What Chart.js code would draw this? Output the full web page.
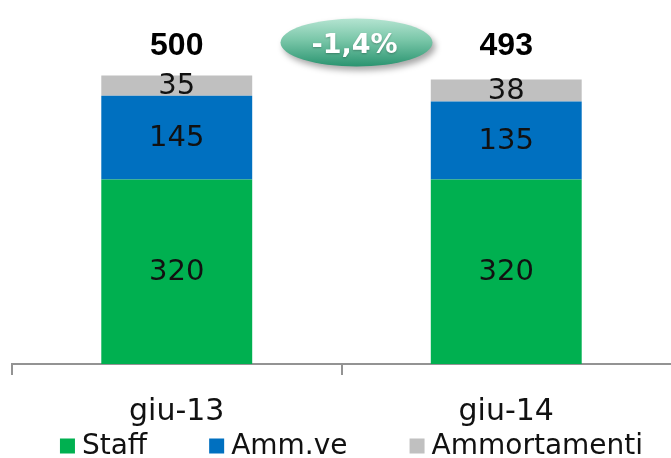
<!DOCTYPE html>
<html>
<head>
<meta charset="utf-8">
<script src="https://cdn.jsdelivr.net/npm/chart.js@4/dist/chart.umd.min.js"></script>
<style>
  html, body { margin: 0; padding: 0; background: #ffffff; }
  #wrap { width: 671px; height: 458px; position: relative; }
</style>
</head>
<body>
<div id="wrap"><canvas id="chart"></canvas></div>
<script>
// Cost breakdown by period (stacked)
const categories = ['giu-13', 'giu-14'];
const staff = [320, 320];
const amministrative = [145, 135];
const ammortamenti = [35, 38];
const seriesNames = ['Staff', 'Amm.ve', 'Ammortamenti'];
const seriesColors = ['#00b050', '#0070c0', '#c0c0c0'];

const FONT = '"DejaVu Sans", sans-serif';
const AXIS_GREY = '#939393';
const totals = categories.map((_, i) => staff[i] + amministrative[i] + ammortamenti[i]);
const change = (totals[1] - totals[0]) / totals[0] * 100;
const changeText = (change < 0 ? '-' : '+') + Math.abs(change).toFixed(1).replace('.', ',') + '%';

// Values written in the middle of each segment
const segmentLabels = {
  id: 'segmentLabels',
  afterDatasetsDraw(chart) {
    const ctx = chart.ctx;
    ctx.save();
    ctx.font = '29px ' + FONT;
    ctx.fillStyle = '#111111';
    ctx.textAlign = 'center';
    ctx.textBaseline = 'middle';
    chart.data.datasets.forEach((ds, di) => {
      chart.getDatasetMeta(di).data.forEach((bar, i) => {
        const p = bar.getProps(['x', 'y', 'base'], true);
        ctx.fillText(String(ds.data[i]), p.x, (p.y + p.base) / 2 + 1);
      });
    });
    ctx.restore();
  }
};

// Totals above the stacks and the change badge between them
const totalsAndBadge = {
  id: 'totalsAndBadge',
  afterDatasetsDraw(chart) {
    const ctx = chart.ctx;
    const xs = chart.scales.x, ys = chart.scales.y;
    const ty = ys.getPixelForValue(Math.max(...totals)) - 30;
    ctx.save();
    ctx.font = 'bold 32px "Liberation Sans", Arial, sans-serif';
    ctx.fillStyle = '#000000';
    ctx.textAlign = 'center';
    ctx.textBaseline = 'middle';
    totals.forEach((t, i) => ctx.fillText(String(t), xs.getPixelForValue(i), ty + 1));

    // badge
    const cx = (xs.getPixelForValue(0) + xs.getPixelForValue(1)) / 2 + 15;
    const cy = ty - 3;
    const rx = 76, ry = 24;
    ctx.save();
    ctx.shadowColor = 'rgba(0,0,0,0.35)';
    ctx.shadowBlur = 6;
    ctx.shadowOffsetX = 3;
    ctx.shadowOffsetY = 4;
    const g = ctx.createLinearGradient(0, cy - ry, 0, cy + ry);
    g.addColorStop(0, '#b4e4d1');
    g.addColorStop(0.45, '#79c6a8');
    g.addColorStop(1, '#2a9470');
    ctx.fillStyle = g;
    ctx.beginPath();
    ctx.ellipse(cx, cy, rx, ry, 0, 0, Math.PI * 2);
    ctx.fill();
    ctx.restore();

    ctx.font = 'bold 27px ' + FONT;
    ctx.fillStyle = '#ffffff';
    ctx.shadowColor = 'rgba(0,0,0,0.25)';
    ctx.shadowBlur = 2;
    ctx.shadowOffsetY = 1;
    ctx.fillText(changeText, cx - 2, cy + 3);
    ctx.restore();
  }
};

// Legend row beneath the axis labels
const bottomLegend = {
  id: 'bottomLegend',
  afterDraw(chart) {
    const ctx = chart.ctx;
    const box = 15, gap = 7, spacing = 62;
    ctx.save();
    ctx.font = '28px ' + FONT;
    const items = chart.data.datasets.map(ds => ({
      text: ds.label, color: ds.backgroundColor, w: ctx.measureText(ds.label).width
    }));
    const total = items.reduce((s, it) => s + box + gap + it.w, 0) + spacing * (items.length - 1);
    let x = chart.width / 2 + 16 - total / 2;
    const y = 446;
    ctx.textBaseline = 'middle';
    ctx.textAlign = 'left';
    items.forEach(it => {
      ctx.fillStyle = it.color;
      ctx.fillRect(x, y - box / 2, box, box);
      ctx.fillStyle = '#111111';
      ctx.fillText(it.text, x + box + gap, y + 1);
      x += box + gap + it.w + spacing;
    });
    ctx.restore();
  }
};

new Chart(document.getElementById('chart'), {
  type: 'bar',
  data: {
    labels: categories,
    datasets: [
      { label: seriesNames[0], data: staff, backgroundColor: seriesColors[0] },
      { label: seriesNames[1], data: amministrative, backgroundColor: seriesColors[1] },
      { label: seriesNames[2], data: ammortamenti, backgroundColor: seriesColors[2] }
    ]
  },
  options: {
    responsive: true,
    maintainAspectRatio: false,
    animation: false,
    layout: { padding: { left: 12, right: 0, top: 0, bottom: 9 } },
    datasets: { bar: { categoryPercentage: 1, barPercentage: 0.458, borderWidth: 0 } },
    plugins: { legend: { display: false }, tooltip: { enabled: false } },
    scales: {
      x: {
        stacked: true,
        grid: {
          display: true, drawOnChartArea: false, drawTicks: true, tickLength: 11, lineWidth: 2, offset: true,
          // the closing tick at the right edge (scale context, no tick) is left out
          color: c => (c.type === 'tick' ? AXIS_GREY : 'rgba(0,0,0,0)')
        },
        border: { display: true, color: AXIS_GREY, width: 2 },
        ticks: { font: { family: FONT, size: 30 }, color: '#111111', padding: 19 }
      },
      y: { stacked: true, display: false, min: 0, max: 631 }
    }
  },
  plugins: [segmentLabels, totalsAndBadge, bottomLegend]
});
</script>
</body>
</html>
